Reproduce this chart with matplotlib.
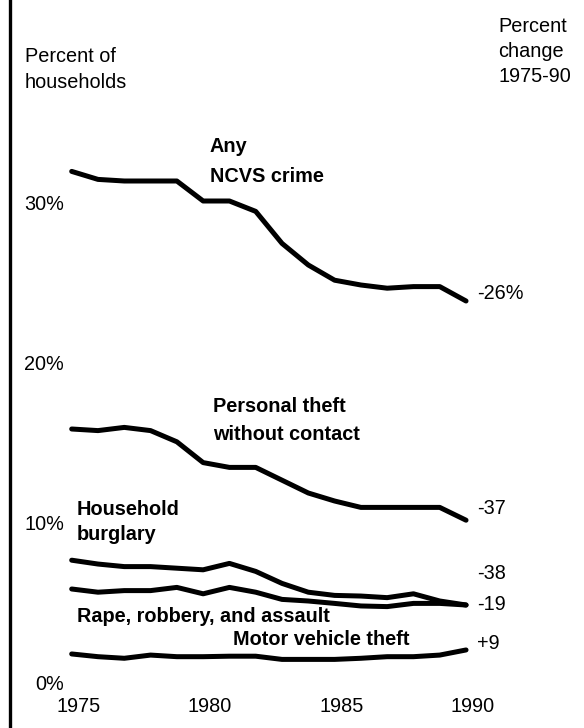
import matplotlib
matplotlib.use("Agg")
import matplotlib.pyplot as plt
from matplotlib.lines import Line2D
import matplotlib.transforms as mtransforms

plt.rcParams['font.family'] = ['Liberation Sans', 'DejaVu Sans']

years = list(range(1975, 1991))
any_ncvs = [32.1, 31.6, 31.5, 31.5, 31.5, 30.25, 30.25, 29.6, 27.6, 26.25, 25.3, 25.0, 24.8, 24.9, 24.9, 24.0]
personal_theft = [16.0, 15.9, 16.1, 15.9, 15.2, 13.9, 13.6, 13.6, 12.8, 12.0, 11.5, 11.1, 11.1, 11.1, 11.1, 10.3]
burglary = [7.8, 7.56, 7.4, 7.4, 7.3, 7.2, 7.6, 7.1, 6.35, 5.8, 5.6, 5.56, 5.46, 5.7, 5.25, 5.0]
violent = [6.0, 5.8, 5.9, 5.9, 6.1, 5.7, 6.1, 5.8, 5.35, 5.25, 5.1, 4.94, 4.9, 5.1, 5.1, 5.0]
motor_vehicle = [1.94, 1.77, 1.67, 1.87, 1.77, 1.77, 1.8, 1.8, 1.6, 1.6, 1.6, 1.67, 1.77, 1.77, 1.87, 2.19]

series = [any_ncvs, personal_theft, burglary, violent, motor_vehicle]
changes = ["-26%", "-37", "-38", "-19", "+9"]
y_ticks = [0, 10, 20, 30]
y_tick_labels = ["0%", "10%", "20%", "30%"]
x_ticks = [1975, 1980, 1985, 1990]

W, H = 584, 728
fig = plt.figure(figsize=(W / 100, H / 100), dpi=100)
ax = fig.add_axes([0, 0, 1, 1])
ax.set_xlim(1972.273, 1994.487)
ax.set_ylim(-2.6875, 42.8125)
ax.axis('off')

for s in series:
    ax.plot(years, s, color='black', lw=3.6, solid_joinstyle='round', solid_capstyle='round')

# left border line
fig.add_artist(Line2D([9.5 / W, 9.5 / W], [0, 1], color='black', lw=2.4, transform=fig.transFigure))

FS = 14.3

def ftext(x, y, s, bold=False, ha='left'):
    fig.text(x / W, 1 - y / H, s, fontsize=FS, ha=ha, va='baseline',
             fontweight='bold' if bold else 'normal', color='black')

# y tick labels (placed at data y)
ytrans = mtransforms.blended_transform_factory(fig.transFigure, ax.transData)
for v, lab in zip(y_ticks, y_tick_labels):
    ax.text(64 / W, v, lab, transform=ytrans, ha='right', va='center', fontsize=FS)

# x tick labels
xtrans = mtransforms.blended_transform_factory(ax.transData, fig.transFigure)
for yr in x_ticks:
    ax.text(yr + 0.25, 1 - 712 / H, str(yr), transform=xtrans, ha='center', va='baseline', fontsize=FS)

# headers
ftext(25, 62, "Percent of")
ftext(25, 88, "households")
ftext(498, 32, "Percent")
ftext(498, 57, "change")
ftext(498, 82, "1975-90")

# series labels
ftext(210, 152, "Any", bold=True)
ftext(210, 182, "NCVS crime", bold=True)
ftext(213, 412, "Personal theft", bold=True)
ftext(213, 440, "without contact", bold=True)
ftext(77, 515, "Household", bold=True)
ftext(77, 540, "burglary", bold=True)
ftext(77, 622, "Rape, robbery, and assault", bold=True)
ftext(233, 645, "Motor vehicle theft", bold=True)

# percent change labels at end of series
for lab, yy in zip(changes, [292, 507, 572, 603, 642]):
    ftext(477, yy + 7, lab)

fig.savefig("out.png", dpi=100, facecolor='white')
